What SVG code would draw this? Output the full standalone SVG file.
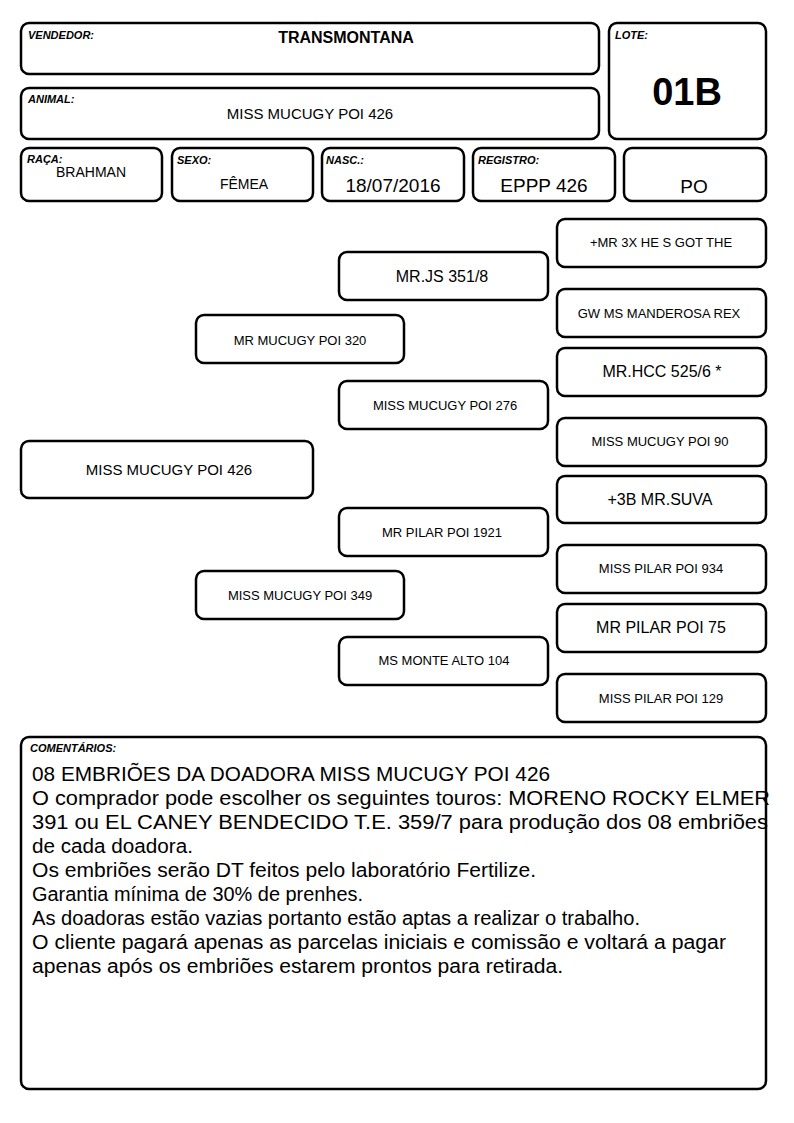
<svg xmlns="http://www.w3.org/2000/svg" width="794" height="1123" viewBox="0 0 794 1123">
<style>
.box{fill:#fff;stroke:#000;stroke-width:2.5}
.lbl{font-family:"Liberation Sans",Arial,sans-serif;font-size:11px;font-weight:bold;font-style:italic;fill:#000}
.t{font-family:"Liberation Sans",Arial,sans-serif;fill:#000;text-anchor:middle}
.s13{font-size:13px}
.s15{font-size:15px}
.s16{font-size:16px}
.s19{font-size:19px}
.c{font-family:"Liberation Sans",Arial,sans-serif;font-size:20px;fill:#000}
</style>
<rect width="794" height="1123" fill="#fff"/>
<g id="vendedor"><rect class="box" x="21" y="23" width="578" height="51" rx="8"/><text class="lbl" x="28" y="39">VENDEDOR:</text><text class="t" x="346" y="43" style="font-size:16px;font-weight:bold">TRANSMONTANA</text></g>
<g id="animal"><rect class="box" x="21" y="88" width="578" height="51" rx="8"/><text class="lbl" x="28" y="103">ANIMAL:</text><text class="t s15" x="310" y="119">MISS MUCUGY POI 426</text></g>
<g id="lote"><rect class="box" x="609" y="23" width="157" height="116" rx="8"/><text class="lbl" x="615" y="39">LOTE:</text><text class="t" x="687" y="105" style="font-size:38px;font-weight:bold">01B</text></g>
<g id="raca"><rect class="box" x="21" y="148" width="141" height="53" rx="8"/><text class="lbl" x="27" y="163">RAÇA:</text><text class="t" x="91" y="177" style="font-size:14px">BRAHMAN</text></g>
<g id="sexo"><rect class="box" x="172" y="148" width="141" height="53" rx="8"/><text class="lbl" x="177" y="164">SEXO:</text><text class="t" x="244" y="189" style="font-size:14px">FÊMEA</text></g>
<g id="nasc"><rect class="box" x="322" y="148" width="142" height="53" rx="8"/><text class="lbl" x="326" y="164">NASC.:</text><text class="t s19" x="393" y="192">18/07/2016</text></g>
<g id="registro"><rect class="box" x="473" y="148" width="142" height="53" rx="8"/><text class="lbl" x="478" y="164">REGISTRO:</text><text class="t s19" x="544" y="192">EPPP 426</text></g>
<g id="po"><rect class="box" x="624" y="148" width="142" height="53" rx="8"/><text class="t s19" x="694" y="193">PO</text></g>

<g id="n-animal"><rect class="box" x="21" y="441" width="292" height="57" rx="8"/><text class="t s15" x="169" y="475">MISS MUCUGY POI 426</text></g>
<g id="n-pai"><rect class="box" x="196" y="315" width="208" height="48" rx="8"/><text class="t s13" x="300" y="345">MR MUCUGY POI 320</text></g>
<g id="n-mae"><rect class="box" x="196" y="571" width="208" height="48" rx="8"/><text class="t s13" x="300" y="600">MISS MUCUGY POI 349</text></g>
<g id="n-avo1"><rect class="box" x="339" y="252" width="209" height="48" rx="8"/><text class="t s16" x="442" y="282">MR.JS 351/8</text></g>
<g id="n-avo2"><rect class="box" x="339" y="381" width="209" height="48" rx="8"/><text class="t s13" x="445" y="410">MISS MUCUGY POI 276</text></g>
<g id="n-avo3"><rect class="box" x="339" y="508" width="209" height="48" rx="8"/><text class="t s13" x="442" y="537">MR PILAR POI 1921</text></g>
<g id="n-avo4"><rect class="box" x="339" y="637" width="209" height="48" rx="8"/><text class="t s13" x="444" y="665">MS MONTE ALTO 104</text></g>
<g id="n-b1"><rect class="box" x="557" y="219" width="209" height="48" rx="8"/><text class="t s13" x="661" y="247">+MR 3X HE S GOT THE</text></g>
<g id="n-b2"><rect class="box" x="557" y="289" width="209" height="48" rx="8"/><text class="t s13" x="659" y="318">GW MS MANDEROSA REX</text></g>
<g id="n-b3"><rect class="box" x="557" y="348" width="209" height="48" rx="8"/><text class="t s16" x="662" y="377">MR.HCC 525/6 *</text></g>
<g id="n-b4"><rect class="box" x="557" y="418" width="209" height="48" rx="8"/><text class="t s13" x="660" y="446">MISS MUCUGY POI 90</text></g>
<g id="n-b5"><rect class="box" x="557" y="476" width="209" height="47" rx="8"/><text class="t s16" x="660" y="505">+3B MR.SUVA</text></g>
<g id="n-b6"><rect class="box" x="557" y="545" width="209" height="48" rx="8"/><text class="t s13" x="661" y="573">MISS PILAR POI 934</text></g>
<g id="n-b7"><rect class="box" x="557" y="604" width="209" height="48" rx="8"/><text class="t s16" x="661" y="633">MR PILAR POI 75</text></g>
<g id="n-b8"><rect class="box" x="557" y="674" width="209" height="48" rx="8"/><text class="t s13" x="661" y="703">MISS PILAR POI 129</text></g>
<g id="connectors"></g>

<g id="comentarios"><rect class="box" x="21" y="737" width="745" height="352" rx="8"/>
<text class="lbl" x="30" y="752">COMENTÁRIOS:</text>
<text class="c" x="32" y="781" textLength="518" lengthAdjust="spacingAndGlyphs">08 EMBRIÕES DA DOADORA MISS MUCUGY POI 426</text>
<text class="c" x="32" y="805" textLength="738" lengthAdjust="spacingAndGlyphs">O comprador pode escolher os seguintes touros: MORENO ROCKY ELMER</text>
<text class="c" x="32" y="829" textLength="736" lengthAdjust="spacingAndGlyphs">391 ou EL CANEY BENDECIDO T.E. 359/7 para produção dos 08 embriões</text>
<text class="c" x="32" y="853" textLength="161" lengthAdjust="spacingAndGlyphs">de cada doadora.</text>
<text class="c" x="32" y="877" textLength="504" lengthAdjust="spacingAndGlyphs">Os embriões serão DT feitos pelo laboratório Fertilize.</text>
<text class="c" x="32" y="901" textLength="331" lengthAdjust="spacingAndGlyphs">Garantia mínima de 30% de prenhes.</text>
<text class="c" x="32" y="925" textLength="608" lengthAdjust="spacingAndGlyphs">As doadoras estão vazias portanto estão aptas a realizar o trabalho.</text>
<text class="c" x="32" y="949" textLength="694" lengthAdjust="spacingAndGlyphs">O cliente pagará apenas as parcelas iniciais e comissão e voltará a pagar</text>
<text class="c" x="32" y="973" textLength="531" lengthAdjust="spacingAndGlyphs">apenas após os embriões estarem prontos para retirada.</text>
</g>
</svg>
